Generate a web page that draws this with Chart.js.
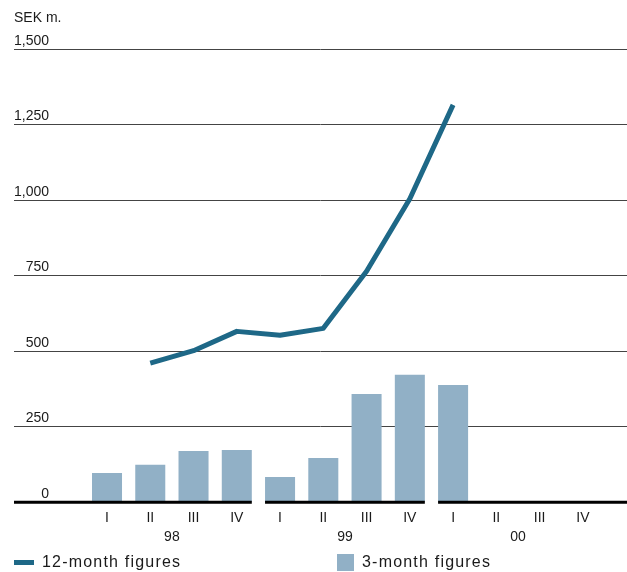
<!DOCTYPE html>
<html>
<head>
<meta charset="utf-8">
<script src="https://cdn.jsdelivr.net/npm/chart.js@4"></script>
<style>
  body { margin: 0; background: #fff; }
  #wrap { position: relative; width: 627px; height: 572px; }
  .key { position: absolute; top: 552px; height: 20px; display: flex; align-items: center;
    font-family: "Liberation Sans", Arial, sans-serif; font-size: 16px; letter-spacing: 1.2px; color: #1a1a1a; }
  .key span { display: inline-block; margin-right: 8px; }
</style>
</head>
<body>
<div id="wrap">
  <canvas id="myChart" width="627" height="572"></canvas>
  <div class="key" style="left:14px"><span id="mLine" style="width:20px;height:5px"></span><b id="tLine" style="font-weight:normal"></b></div>
  <div class="key" style="left:337px"><span id="mBar" style="width:17px;height:17px"></span><b id="tBar" style="font-weight:normal"></b></div>
</div>
<script>
// quarters 98 I .. 00 IV
var quarters = ["I", "II", "III", "IV", "I", "II", "III", "IV", "I", "II", "III", "IV"];
var years = ["98", "99", "00"];
var yTicks = [0, 250, 500, 750, 1000, 1250, 1500];

// SEK m.
var rolling12 = [null, 461, 502, 566, 553, 576, 765, 1005, 1316, null, null, null];
var quarterly = [97, 124, 170, 173, 84, 147, 359, 422, 388, null, null, null];

var lineColor = "#1e6887";
var barColor = "#91b0c6";

createChart();

function createChart() {
  const ctx = document.getElementById("myChart");

  // thick zero line, broken between the years
  const baseline = {
    id: "baseline",
    afterDatasetsDraw(chart) {
      const { ctx, chartArea, scales } = chart;
      const x = scales.x;
      const y0 = scales.y.getPixelForValue(0);
      const bar = chart.getDatasetMeta(1).data[0];
      const half = (x.getPixelForValue(1) - x.getPixelForValue(0) - bar.width) / 2;
      let start = chartArea.left;
      ctx.save();
      ctx.strokeStyle = "#000";
      ctx.lineWidth = 3;
      ctx.beginPath();
      years.slice(1).forEach((yr, i) => {
        const cut = x.getPixelForValue((i + 1) * 4 - 0.5);
        ctx.moveTo(start, y0);
        ctx.lineTo(cut - half, y0);
        start = cut + half;
      });
      ctx.moveTo(start, y0);
      ctx.lineTo(chartArea.right, y0);
      ctx.stroke();
      ctx.restore();
    },
  };

  new Chart(ctx, {
    type: "bar",
    data: {
      datasets: [
        {
          type: "line",
          label: "12-month figures",
          data: rolling12.map((v, i) => ({ x: i, y: v })),
          borderColor: lineColor,
          backgroundColor: lineColor,
          borderWidth: 5,
          pointRadius: 0,
          tension: 0,
          borderCapStyle: "butt",
          borderJoinStyle: "round",
        },
        {
          label: "3-month figures",
          data: quarterly.map((v, i) => ({ x: i, y: v })),
          backgroundColor: barColor,
          borderWidth: 0,
          barPercentage: 0.694,
          categoryPercentage: 1,
        },
      ],
    },
    plugins: [baseline],
    options: {
      responsive: false,
      animation: false,
      layout: { padding: { left: 14, right: 0, top: 0, bottom: 25.7 } },
      font: { family: '"Liberation Sans", Arial, sans-serif' },
      plugins: {
        legend: { display: false },
        tooltip: { enabled: false },
        title: {
          display: true,
          text: "SEK m.",
          align: "start",
          color: "#1a1a1a",
          font: { size: 14, weight: "normal" },
          padding: { top: 10, bottom: 22.5 },
        },
      },
      scales: {
        x: {
          type: "linear",
          offset: false,
          min: -2.15,
          max: 12.02,
          bounds: "data",
          grid: { display: false, drawTicks: false, offset: false },
          border: { display: false },
          afterBuildTicks: (axis) => {
            axis.ticks = quarters.map((q, i) => ({ value: i }));
          },
          afterFit: (axis) => {
            axis.height = 24;
          },
          ticks: {
            padding: 7,
            color: "#1a1a1a",
            font: { size: 14 },
            maxRotation: 0,
            autoSkip: false,
            callback: (v, i) => quarters[i],
          },
        },
        years: {
          type: "linear",
          position: "bottom",
          offset: false,
          weight: 1,
          min: -2.15,
          max: 12.02,
          bounds: "data",
          grid: { display: false, drawTicks: false, offset: false },
          border: { display: false },
          afterBuildTicks: (axis) => {
            axis.ticks = years.map((yr, i) => ({ value: i * 4 + 1.5 }));
          },
          afterFit: (axis) => {
            axis.height = 20;
          },
          ticks: {
            padding: 2,
            color: "#1a1a1a",
            font: { size: 14 },
            maxRotation: 0,
            autoSkip: false,
            callback: (v, i) => years[i],
          },
        },
        y: {
          min: 0,
          max: 1500,
          grid: {
            drawTicks: false,
            color: (c) => (c.tick && c.tick.value === 0 ? "rgba(0,0,0,0)" : "#444"),
          },
          border: { display: false },
          afterBuildTicks: (axis) => {
            axis.ticks = yTicks.map((v) => ({ value: v }));
          },
          ticks: {
            mirror: true,
            crossAlign: "far",
            padding: 0,
            labelOffset: -8.5,
            color: "#1a1a1a",
            font: { size: 14 },
            callback: (v) => v.toLocaleString("en-US"),
          },
        },
      },
    },
  });

  document.getElementById("mLine").style.background = lineColor;
  document.getElementById("mBar").style.background = barColor;
  document.getElementById("tLine").textContent = "12-month figures";
  document.getElementById("tBar").textContent = "3-month figures";
}
</script>
</body>
</html>
